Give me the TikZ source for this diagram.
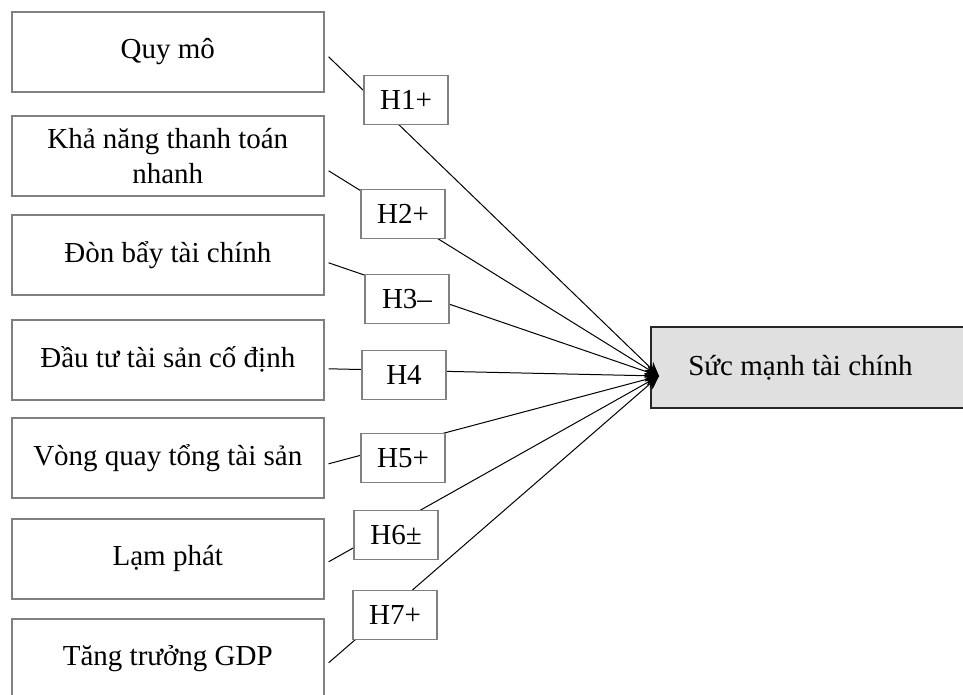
\documentclass[tikz,border=0pt]{standalone}
\usepackage{fontspec}
\setmainfont{Liberation Serif}
\usetikzlibrary{arrows.meta}

\tikzset{
  factor/.style={draw=black!50, line width=0.8pt, minimum width=156pt,
    minimum height=40pt, align=center, inner sep=2pt, anchor=north west},
  hyp/.style={draw=black!50, line width=0.8pt, fill=white,
    minimum width=42pt, minimum height=24.5pt, inner sep=1pt},
  outcome/.style={draw=black!85, line width=1pt, fill=black!12,
    minimum width=157.5pt, minimum height=40.5pt, anchor=north west},
  link/.style={line width=0.5pt, -{Stealth[length=7pt,width=6pt]}}
}

\begin{document}
\begin{tikzpicture}[x=0.5pt,y=-0.5pt, font=\fontsize{14.5}{17.5}\selectfont]
    \useasboundingbox (0,0) rectangle (963,695);

    % factors
    \node[factor] (f1) at (11,11)  {Quy mô};
    \node[factor] (f2) at (11,115) {Khả năng thanh toán\\nhanh};
    \node[factor] (f3) at (11,214) {Đòn bẩy tài chính};
    \node[factor] (f4) at (11,319) {Đầu tư tài sản cố định};
    \node[factor] (f5) at (11,417) {Vòng quay tổng tài sản};
    \node[factor] (f6) at (11,518) {Lạm phát};
    \node[factor] (f7) at (11,618) {Tăng trưởng GDP};

    \node[outcome] (sm) at (650,326) {Sức mạnh tài chính\rule{8pt}{0pt}};
    \coordinate (tip) at (659,376);

    % links
    \foreach \i/\dy in {1/2.5,2/7.5,3/4,4/4.5,5/3,6/1.5,7/2}{%
        \draw[link] ([xshift=2pt,yshift=-\dy pt]f\i.east) -- (tip);
    }

    % hypotheses
    \node[hyp] (h1) at (406,100) {H1+};
    \node[hyp] (h2) at (403,214) {H2+};
    \node[hyp] (h3) at (407,299) {H3–};
    \node[hyp] (h4) at (404,375) {H4};
    \node[hyp] (h5) at (403,458) {H5+};
    \node[hyp] (h6) at (396,535) {H6±};
    \node[hyp] (h7) at (395,615) {H7+};
\end{tikzpicture}
\end{document}
